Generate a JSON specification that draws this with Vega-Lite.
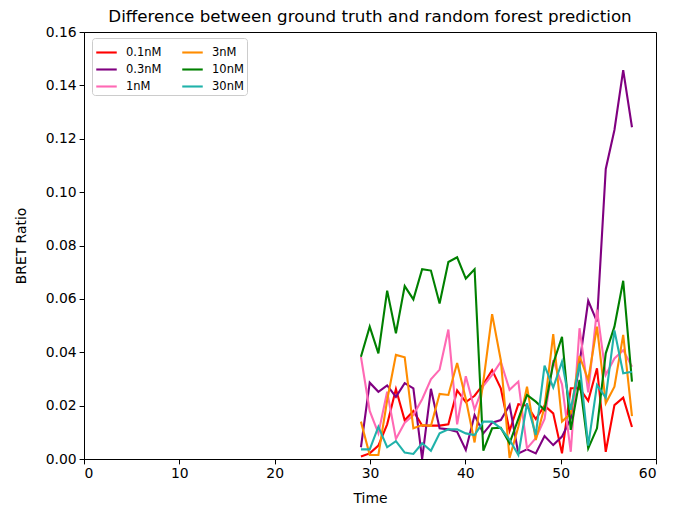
{
  "$schema": "https://vega.github.io/schema/vega-lite/v6.json",
  "autosize": "none",
  "width": 572,
  "height": 427,
  "padding": {"left": 84, "top": 32, "right": 17, "bottom": 53},
  "background": "white",
  "title": {"text": "Difference between ground truth and random forest prediction", "font": "DejaVu Sans", "fontSize": 16.7, "fontWeight": "normal", "color": "black", "anchor": "middle", "offset": -1},
  "config": {
    "view": {"stroke": "black", "strokeWidth": 1},
    "axis": {"grid": false, "domainColor": "black", "tickColor": "black", "labelColor": "black", "titleColor": "black", "labelFont": "DejaVu Sans", "titleFont": "DejaVu Sans", "labelFontSize": 13.9, "titleFontSize": 13.9, "titleFontWeight": "normal", "tickSize": 4.9, "labelPadding": 3, "domainWidth": 1, "tickWidth": 1}
  },
  "data": {"values": [
    {"t":29.05,"s":"0.1nM","v":0.0009},{"t":29.97,"s":"0.1nM","v":0.0021},{"t":30.88,"s":"0.1nM","v":0.005},{"t":31.80,"s":"0.1nM","v":0.013},{"t":32.72,"s":"0.1nM","v":0.0262},{"t":33.64,"s":"0.1nM","v":0.0145},{"t":34.55,"s":"0.1nM","v":0.018},{"t":35.47,"s":"0.1nM","v":0.0125},{"t":36.39,"s":"0.1nM","v":0.0125},{"t":37.30,"s":"0.1nM","v":0.0125},{"t":38.22,"s":"0.1nM","v":0.013},{"t":39.14,"s":"0.1nM","v":0.0257},{"t":40.05,"s":"0.1nM","v":0.0213},{"t":40.97,"s":"0.1nM","v":0.0237},{"t":41.89,"s":"0.1nM","v":0.028},{"t":42.81,"s":"0.1nM","v":0.0333},{"t":43.72,"s":"0.1nM","v":0.0265},{"t":44.64,"s":"0.1nM","v":0.0105},{"t":45.56,"s":"0.1nM","v":0.0205},{"t":46.47,"s":"0.1nM","v":0.020},{"t":47.39,"s":"0.1nM","v":0.015},{"t":48.31,"s":"0.1nM","v":0.020},{"t":49.22,"s":"0.1nM","v":0.0171},{"t":50.14,"s":"0.1nM","v":0.0021},{"t":51.06,"s":"0.1nM","v":0.0265},{"t":51.98,"s":"0.1nM","v":0.0265},{"t":52.89,"s":"0.1nM","v":0.0218},{"t":53.81,"s":"0.1nM","v":0.034},{"t":54.73,"s":"0.1nM","v":0.0027},{"t":55.64,"s":"0.1nM","v":0.0202},{"t":56.56,"s":"0.1nM","v":0.023},{"t":57.48,"s":"0.1nM","v":0.012},
    {"t":29.05,"s":"0.3nM","v":0.0044},{"t":29.97,"s":"0.3nM","v":0.0286},{"t":30.88,"s":"0.3nM","v":0.0252},{"t":31.80,"s":"0.3nM","v":0.0276},{"t":32.72,"s":"0.3nM","v":0.0233},{"t":33.64,"s":"0.3nM","v":0.0284},{"t":34.55,"s":"0.3nM","v":0.0265},{"t":35.47,"s":"0.3nM","v":0.0},{"t":36.39,"s":"0.3nM","v":0.0263},{"t":37.30,"s":"0.3nM","v":0.0115},{"t":38.22,"s":"0.3nM","v":0.0111},{"t":39.14,"s":"0.3nM","v":0.0102},{"t":40.05,"s":"0.3nM","v":0.0034},{"t":40.97,"s":"0.3nM","v":0.0165},{"t":41.89,"s":"0.3nM","v":0.0096},{"t":42.81,"s":"0.3nM","v":0.0136},{"t":43.72,"s":"0.3nM","v":0.0146},{"t":44.64,"s":"0.3nM","v":0.0202},{"t":45.56,"s":"0.3nM","v":0.0021},{"t":46.47,"s":"0.3nM","v":0.0036},{"t":47.39,"s":"0.3nM","v":0.0021},{"t":48.31,"s":"0.3nM","v":0.0086},{"t":49.22,"s":"0.3nM","v":0.0052},{"t":50.14,"s":"0.3nM","v":0.0084},{"t":51.06,"s":"0.3nM","v":0.0152},{"t":51.98,"s":"0.3nM","v":0.0358},{"t":52.89,"s":"0.3nM","v":0.0593},{"t":53.81,"s":"0.3nM","v":0.0515},{"t":54.73,"s":"0.3nM","v":0.1087},{"t":55.64,"s":"0.3nM","v":0.1233},{"t":56.56,"s":"0.3nM","v":0.1457},{"t":57.48,"s":"0.3nM","v":0.1243},
    {"t":29.05,"s":"1nM","v":0.0383},{"t":29.97,"s":"1nM","v":0.018},{"t":30.88,"s":"1nM","v":0.0096},{"t":31.80,"s":"1nM","v":0.0252},{"t":32.72,"s":"1nM","v":0.0075},{"t":33.64,"s":"1nM","v":0.0136},{"t":34.55,"s":"1nM","v":0.0165},{"t":35.47,"s":"1nM","v":0.0224},{"t":36.39,"s":"1nM","v":0.0299},{"t":37.30,"s":"1nM","v":0.0335},{"t":38.22,"s":"1nM","v":0.0485},{"t":39.14,"s":"1nM","v":0.013},{"t":40.05,"s":"1nM","v":0.031},{"t":40.97,"s":"1nM","v":0.0185},{"t":41.89,"s":"1nM","v":0.0274},{"t":42.81,"s":"1nM","v":0.0315},{"t":43.72,"s":"1nM","v":0.0365},{"t":44.64,"s":"1nM","v":0.0259},{"t":45.56,"s":"1nM","v":0.029},{"t":46.47,"s":"1nM","v":0.004},{"t":47.39,"s":"1nM","v":0.0078},{"t":48.31,"s":"1nM","v":0.015},{"t":49.22,"s":"1nM","v":0.037},{"t":50.14,"s":"1nM","v":0.028},{"t":51.06,"s":"1nM","v":0.0027},{"t":51.98,"s":"1nM","v":0.049},{"t":52.89,"s":"1nM","v":0.025},{"t":53.81,"s":"1nM","v":0.056},{"t":54.73,"s":"1nM","v":0.0315},{"t":55.64,"s":"1nM","v":0.0377},{"t":56.56,"s":"1nM","v":0.0408},{"t":57.48,"s":"1nM","v":0.0346},
    {"t":29.05,"s":"3nM","v":0.014},{"t":29.97,"s":"3nM","v":0.0015},{"t":30.88,"s":"3nM","v":0.0015},{"t":31.80,"s":"3nM","v":0.022},{"t":32.72,"s":"3nM","v":0.039},{"t":33.64,"s":"3nM","v":0.0381},{"t":34.55,"s":"3nM","v":0.0115},{"t":35.47,"s":"3nM","v":0.0127},{"t":36.39,"s":"3nM","v":0.0124},{"t":37.30,"s":"3nM","v":0.0244},{"t":38.22,"s":"3nM","v":0.024},{"t":39.14,"s":"3nM","v":0.036},{"t":40.05,"s":"3nM","v":0.0225},{"t":40.97,"s":"3nM","v":0.0062},{"t":41.89,"s":"3nM","v":0.029},{"t":42.81,"s":"3nM","v":0.0543},{"t":43.72,"s":"3nM","v":0.037},{"t":44.64,"s":"3nM","v":0.0004},{"t":45.56,"s":"3nM","v":0.0121},{"t":46.47,"s":"3nM","v":0.0271},{"t":47.39,"s":"3nM","v":0.0071},{"t":48.31,"s":"3nM","v":0.0196},{"t":49.22,"s":"3nM","v":0.0468},{"t":50.14,"s":"3nM","v":0.014},{"t":51.06,"s":"3nM","v":0.0171},{"t":51.98,"s":"3nM","v":0.0386},{"t":52.89,"s":"3nM","v":0.0296},{"t":53.81,"s":"3nM","v":0.0496},{"t":54.73,"s":"3nM","v":0.0209},{"t":55.64,"s":"3nM","v":0.0271},{"t":56.56,"s":"3nM","v":0.0465},{"t":57.48,"s":"3nM","v":0.0161},
    {"t":29.05,"s":"10nM","v":0.0383},{"t":29.97,"s":"10nM","v":0.0496},{"t":30.88,"s":"10nM","v":0.0396},{"t":31.80,"s":"10nM","v":0.0631},{"t":32.72,"s":"10nM","v":0.0471},{"t":33.64,"s":"10nM","v":0.0648},{"t":34.55,"s":"10nM","v":0.0598},{"t":35.47,"s":"10nM","v":0.0711},{"t":36.39,"s":"10nM","v":0.0706},{"t":37.30,"s":"10nM","v":0.0583},{"t":38.22,"s":"10nM","v":0.0738},{"t":39.14,"s":"10nM","v":0.0756},{"t":40.05,"s":"10nM","v":0.0676},{"t":40.97,"s":"10nM","v":0.0711},{"t":41.89,"s":"10nM","v":0.0031},{"t":42.81,"s":"10nM","v":0.0115},{"t":43.72,"s":"10nM","v":0.0117},{"t":44.64,"s":"10nM","v":0.0059},{"t":45.56,"s":"10nM","v":0.015},{"t":46.47,"s":"10nM","v":0.024},{"t":47.39,"s":"10nM","v":0.0215},{"t":48.31,"s":"10nM","v":0.0184},{"t":49.22,"s":"10nM","v":0.0358},{"t":50.14,"s":"10nM","v":0.0458},{"t":51.06,"s":"10nM","v":0.0109},{"t":51.98,"s":"10nM","v":0.0296},{"t":52.89,"s":"10nM","v":0.004},{"t":53.81,"s":"10nM","v":0.0115},{"t":54.73,"s":"10nM","v":0.0396},{"t":55.64,"s":"10nM","v":0.0496},{"t":56.56,"s":"10nM","v":0.0668},{"t":57.48,"s":"10nM","v":0.029},
    {"t":29.05,"s":"30nM","v":0.0036},{"t":29.97,"s":"30nM","v":0.0036},{"t":30.88,"s":"30nM","v":0.0121},{"t":31.80,"s":"30nM","v":0.0044},{"t":32.72,"s":"30nM","v":0.0067},{"t":33.64,"s":"30nM","v":0.0024},{"t":34.55,"s":"30nM","v":0.0019},{"t":35.47,"s":"30nM","v":0.0059},{"t":36.39,"s":"30nM","v":0.0031},{"t":37.30,"s":"30nM","v":0.0096},{"t":38.22,"s":"30nM","v":0.0111},{"t":39.14,"s":"30nM","v":0.0111},{"t":40.05,"s":"30nM","v":0.0096},{"t":40.97,"s":"30nM","v":0.009},{"t":41.89,"s":"30nM","v":0.014},{"t":42.81,"s":"30nM","v":0.014},{"t":43.72,"s":"30nM","v":0.0115},{"t":44.64,"s":"30nM","v":0.0072},{"t":45.56,"s":"30nM","v":0.0015},{"t":46.47,"s":"30nM","v":0.0209},{"t":47.39,"s":"30nM","v":0.009},{"t":48.31,"s":"30nM","v":0.035},{"t":49.22,"s":"30nM","v":0.0268},{"t":50.14,"s":"30nM","v":0.0365},{"t":51.06,"s":"30nM","v":0.0184},{"t":51.98,"s":"30nM","v":0.0358},{"t":52.89,"s":"30nM","v":0.005},{"t":53.81,"s":"30nM","v":0.0277},{"t":54.73,"s":"30nM","v":0.023},{"t":55.64,"s":"30nM","v":0.0482},{"t":56.56,"s":"30nM","v":0.0321},{"t":57.48,"s":"30nM","v":0.0327}
  ]},
  "mark": {"type": "line", "strokeWidth": 2.1, "clip": true},
  "encoding": {
    "x": {"field": "t", "type": "quantitative", "title": "Time", "scale": {"domain": [0, 60], "nice": false, "zero": false}, "axis": {"values": [0, 10, 20, 30, 40, 50, 60], "titlePadding": 11}},
    "y": {"field": "v", "type": "quantitative", "title": "BRET Ratio", "scale": {"domain": [0, 0.16], "nice": false}, "axis": {"values": [0, 0.02, 0.04, 0.06, 0.08, 0.1, 0.12, 0.14, 0.16], "format": ".2f", "titlePadding": 17}},
    "color": {"field": "s", "type": "nominal", "title": null,
      "scale": {"domain": ["0.1nM", "3nM", "0.3nM", "10nM", "1nM", "30nM"], "range": ["#ff0000", "#ff8c00", "#800080", "#008000", "#ff69b4", "#20b2aa"]},
      "legend": {"orient": "none", "legendX": 8, "legendY": 6, "columns": 2, "direction": "horizontal", "symbolType": "stroke", "symbolSize": 420, "symbolStrokeWidth": 2.1, "labelFont": "DejaVu Sans", "labelFontSize": 11.5, "labelColor": "black", "labelOffset": 8, "columnPadding": 16, "rowPadding": -4, "padding": 3, "strokeColor": "#cccccc", "fillColor": "white", "cornerRadius": 3}
    },
    "order": {"field": "t", "type": "quantitative"}
  }
}
